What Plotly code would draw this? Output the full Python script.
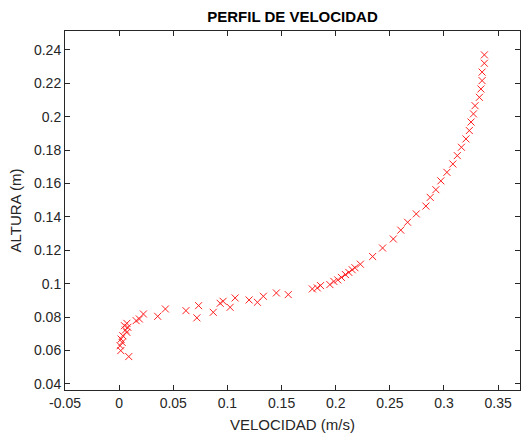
import plotly.graph_objects as go

velocidad = [
    0.3373, 0.3373, 0.3352, 0.3352, 0.3341, 0.3327, 0.3287, 0.3272, 0.3250, 0.3234,
    0.3203, 0.3161, 0.3123, 0.3082, 0.3027, 0.2971, 0.2925, 0.2873, 0.2833, 0.2744,
    0.2664, 0.2601, 0.2532, 0.2433, 0.2341, 0.2228, 0.2178, 0.2152, 0.2121, 0.2090,
    0.2053, 0.2019, 0.1983, 0.1946, 0.1860, 0.1830, 0.1784,
    0.1562, 0.1452, 0.1332, 0.1277, 0.1200, 0.1071, 0.1025, 0.0960, 0.0933, 0.0869,
    0.0734, 0.0718, 0.0617, 0.0427, 0.0356, 0.0224, 0.0187, 0.0157,
    0.0071, 0.0049, 0.0080, 0.0058, 0.0071, 0.0034, 0.0018, 0.0028, 0.0009, 0.0015, 0.0089,
]
altura = [
    0.2370, 0.2320, 0.2267, 0.2216, 0.2166, 0.2116, 0.2066, 0.2017, 0.1968, 0.1917,
    0.1867, 0.1817, 0.1767, 0.1717, 0.1667, 0.1616, 0.1563, 0.1517, 0.1465, 0.1418,
    0.1368, 0.1321, 0.1268, 0.1214, 0.1163, 0.1117, 0.1096, 0.1084, 0.1068, 0.1055,
    0.1038, 0.1023, 0.1014, 0.0995, 0.0989, 0.0975, 0.0969,
    0.0935, 0.0945, 0.0925, 0.0889, 0.0903, 0.0915, 0.0859, 0.0895, 0.0883, 0.0829,
    0.0869, 0.0796, 0.0839, 0.0849, 0.0805, 0.0819, 0.0789, 0.0779,
    0.0763, 0.0749, 0.0739, 0.0723, 0.0709, 0.0689, 0.0669, 0.0649, 0.0629, 0.0600, 0.0564,
]

x_ticks = [-0.05, 0, 0.05, 0.1, 0.15, 0.2, 0.25, 0.3, 0.35]
x_tick_labels = ["-0.05", "0", "0.05", "0.1", "0.15", "0.2", "0.25", "0.3", "0.35"]
y_ticks = [0.04, 0.06, 0.08, 0.1, 0.12, 0.14, 0.16, 0.18, 0.2, 0.22, 0.24]
y_tick_labels = ["0.04", "0.06", "0.08", "0.1", "0.12", "0.14", "0.16", "0.18", "0.2", "0.22", "0.24"]

fig = go.Figure()
fig.add_trace(go.Scatter(
    x=velocidad, y=altura, mode="markers",
    marker=dict(symbol="x-thin", size=7, color="rgba(0,0,0,0)",
                line=dict(color="#ff2020", width=1)),
    showlegend=False, cliponaxis=False,
))

axis_color = "#262626"
font = "Liberation Sans, Arial, sans-serif"
common = dict(
    showgrid=False, zeroline=False, showline=True, linecolor=axis_color, linewidth=1,
    mirror="ticks", ticks="inside", ticklen=5, tickcolor=axis_color, tickwidth=1,
    tickfont=dict(family=font, size=14, color=axis_color), automargin=False,
)
fig.update_layout(
    width=532, height=433,
    margin=dict(l=65, r=12, t=31, b=43),
    paper_bgcolor="white", plot_bgcolor="white",
    title=dict(text="<b>PERFIL DE VELOCIDAD</b>", x=0.5, xref="paper", xanchor="center",
               y=1 - 17 / 433, yref="container", yanchor="middle",
               font=dict(family=font, size=15, color="#000000")),
    xaxis=dict(range=[-0.05, 0.3702], tickvals=x_ticks, ticktext=x_tick_labels,
               title=dict(text="VELOCIDAD (m/s)", standoff=9,
                          font=dict(family=font, size=15, color=axis_color)),
               **common),
    yaxis=dict(range=[0.0364, 0.2513], tickvals=y_ticks, ticktext=y_tick_labels,
               title=dict(text="ALTURA (m)", standoff=8,
                          font=dict(family=font, size=15, color=axis_color)),
               **common),
)
fig.write_html("out.html", config={"displayModeBar": False},
               post_script="document.body.style.margin='0px';")
